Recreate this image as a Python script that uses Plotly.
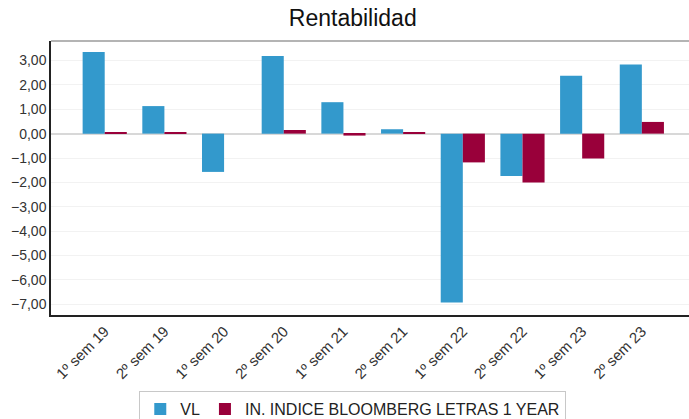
import plotly.graph_objects as go

categories = ["1º sem 19", "2º sem 19", "1º sem 20", "2º sem 20", "1º sem 21",
              "2º sem 21", "1º sem 22", "2º sem 22", "1º sem 23", "2º sem 23"]
vl = [3.35, 1.13, -1.57, 3.18, 1.29, 0.18, -6.93, -1.74, 2.37, 2.84]
indice = [0.06, 0.04, 0.0, 0.15, -0.08, 0.03, -1.18, -2.00, -1.02, 0.48]
yticks = [3, 2, 1, 0, -1, -2, -3, -4, -5, -6, -7]

fig = go.Figure()
fig.add_trace(go.Bar(x=categories, y=vl, name="VL", marker_color="#3399CC",
                     marker_line_width=0))
fig.add_trace(go.Bar(x=categories, y=indice, name="IN. INDICE BLOOMBERG LETRAS 1 YEAR",
                     marker_color="#99003A", marker_line_width=0))

fig.update_layout(
    width=689, height=419,
    margin=dict(l=51, r=0, t=41, b=104, autoexpand=False),
    paper_bgcolor="white", plot_bgcolor="white",
    separators=",.",
    barmode="group", bargap=0.26, bargroupgap=0,
    title=dict(text="Rentabilidad", x=0.512, xanchor="center", y=0.957, yanchor="middle",
               font=dict(family="Liberation Sans, Arial", size=23, color="#111")),
    font=dict(family="Liberation Sans, Arial", size=13, color="#333"),
    legend=dict(orientation="h", x=0.473, xanchor="center", y=-0.278, yanchor="top",
                bordercolor="#c8c8c8", borderwidth=1, font=dict(size=16, color="#222"),
                itemwidth=30, tracegroupgap=0),
    showlegend=True,
)
fig.update_xaxes(range=[-0.9, 9.79], tickangle=-45, showgrid=False, automargin=False,
                 showline=True, linecolor="#222", linewidth=1.5, ticks="",
                 tickfont=dict(size=15, color="#333"))
fig.update_yaxes(range=[-7.44, 3.8], tickvals=yticks, tickformat=".2f", automargin=False,
                 showgrid=True, gridcolor="#f2f2f2", gridwidth=1,
                 zeroline=True, zerolinecolor="#d8d8d8", zerolinewidth=1.5,
                 showline=True, linecolor="#222", linewidth=1.5, ticks="",
                 tickfont=dict(size=14, color="#333"))
fig.add_shape(type="line", xref="paper", yref="paper", x0=0, x1=1, y0=1, y1=1,
              line=dict(color="#b4b4b4", width=2))
fig.write_html("out.html", config={"displayModeBar": False},
               post_script="document.body.style.margin='0';document.body.style.overflow='hidden';")
